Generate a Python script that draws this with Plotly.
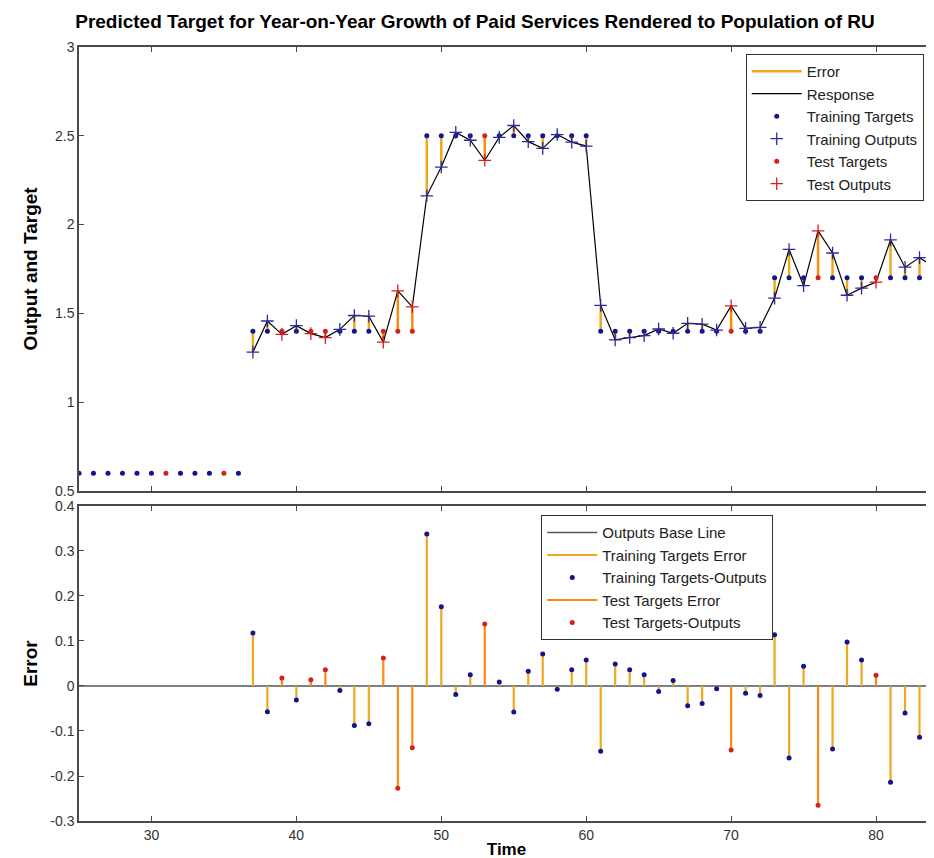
import plotly.graph_objects as go

# time steps and series
time = [25, 26, 27, 28, 29, 30, 31, 32, 33, 34, 35, 36,
        37, 38, 39, 40, 41, 42, 43, 44, 45, 46, 47, 48,
        49, 50, 51, 52, 53, 54, 55, 56, 57, 58, 59, 60,
        61, 62, 63, 64, 65, 66, 67, 68, 69, 70, 71, 72,
        73, 74, 75, 76, 77, 78, 79, 80, 81, 82, 83, 84]

targets = [0.6, 0.6, 0.6, 0.6, 0.6, 0.6, 0.6, 0.6, 0.6, 0.6, 0.6, 0.6,
           1.4, 1.4, 1.4, 1.4, 1.4, 1.4, 1.4, 1.4, 1.4, 1.4, 1.4, 1.4,
           2.5, 2.5, 2.5, 2.5, 2.5, 2.5, 2.5, 2.5, 2.5, 2.5, 2.5, 2.5,
           1.4, 1.4, 1.4, 1.4, 1.4, 1.4, 1.4, 1.4, 1.4, 1.4, 1.4, 1.4,
           1.7, 1.7, 1.7, 1.7, 1.7, 1.7, 1.7, 1.7, 1.7, 1.7, 1.7, 1.7]

# network outputs (none for the first 12 delay steps)
outputs = [None, None, None, None, None, None, None, None, None, None, None, None,
           1.282, 1.457, 1.382, 1.431, 1.386, 1.364, 1.410, 1.488, 1.484, 1.338, 1.627, 1.537,
           2.162, 2.324, 2.519, 2.475, 2.362, 2.491, 2.558, 2.467, 2.429, 2.507, 2.464, 2.442,
           1.545, 1.351, 1.364, 1.375, 1.412, 1.388, 1.444, 1.439, 1.406, 1.542, 1.416, 1.421,
           1.586, 1.860, 1.656, 1.965, 1.840, 1.602, 1.642, 1.676, 1.914, 1.760, 1.814, 1.763]

test_times = [31, 35, 39, 41, 42, 46, 47, 48, 53, 70, 76, 80]

title = "Predicted Target for Year-on-Year Growth of Paid Services Rendered to Population of RU"

#colors
navy = "#14148c"
blue_plus = "#2a2aa0"
red = "#d42020"
err_train = "#f0a820"
err_test = "#fb8a10"
base_grey = "#55555f"

is_test = [t in test_times for t in time]

tr_t = [t for t, k in zip(time, is_test) if not k]
tr_y = [y for y, k in zip(targets, is_test) if not k]
te_t = [t for t, k in zip(time, is_test) if k]
te_y = [y for y, k in zip(targets, is_test) if k]
tr_o_t = [t for t, o, k in zip(time, outputs, is_test) if not k and o is not None]
tr_o = [o for o, k in zip(outputs, is_test) if not k and o is not None]
te_o_t = [t for t, o, k in zip(time, outputs, is_test) if k and o is not None]
te_o = [o for o, k in zip(outputs, is_test) if k and o is not None]

resp_t = [t for t, o in zip(time, outputs) if o is not None]
resp_o = [o for o in outputs if o is not None]

errors = [None if o is None else y - o for y, o in zip(targets, outputs)]


def segs(xs, y0s, y1s):
    sx, sy = [], []
    for x, a, b in zip(xs, y0s, y1s):
        sx += [x, x, None]
        sy += [a, b, None]
    return sx, sy


# top: error lines between target and output
etr_x, etr_y = segs(tr_o_t, [targets[time.index(t)] for t in tr_o_t], tr_o)
ete_x, ete_y = segs(te_o_t, [targets[time.index(t)] for t in te_o_t], te_o)

# bottom: stems from zero
err_tr = [errors[time.index(t)] for t in tr_o_t]
err_te = [errors[time.index(t)] for t in te_o_t]
str_x, str_y = segs(tr_o_t, [0] * len(tr_o_t), err_tr)
ste_x, ste_y = segs(te_o_t, [0] * len(te_o_t), err_te)

fig = go.Figure()

# ---- top panel ----
fig.add_trace(go.Scatter(x=etr_x, y=etr_y, mode="lines", name="Error",
                         line=dict(color=err_train, width=2.5), legend="legend"))
fig.add_trace(go.Scatter(x=ete_x, y=ete_y, mode="lines", name="Error", showlegend=False,
                         line=dict(color=err_test, width=2.5), legend="legend"))
fig.add_trace(go.Scatter(x=resp_t, y=resp_o, mode="lines", name="Response",
                         line=dict(color="black", width=1.2), legend="legend"))
fig.add_trace(go.Scatter(x=tr_t, y=tr_y, mode="markers", name="Training Targets",
                         marker=dict(color=navy, size=5), legend="legend"))
fig.add_trace(go.Scatter(x=tr_o_t, y=tr_o, mode="markers", name="Training Outputs",
                         marker=dict(symbol="cross-thin", size=9, line=dict(color=blue_plus, width=1.3)),
                         legend="legend"))
fig.add_trace(go.Scatter(x=te_t, y=te_y, mode="markers", name="Test Targets",
                         marker=dict(color=red, size=5), legend="legend"))
fig.add_trace(go.Scatter(x=te_o_t, y=te_o, mode="markers", name="Test Outputs",
                         marker=dict(symbol="cross-thin", size=9, line=dict(color=red, width=1.3)),
                         legend="legend"))

# ---- bottom panel ----
fig.add_trace(go.Scatter(x=[time[0], time[-1]], y=[0, 0], mode="lines", name="Outputs Base Line",
                         line=dict(color=base_grey, width=1.5), xaxis="x2", yaxis="y2", legend="legend2"))
fig.add_trace(go.Scatter(x=str_x, y=str_y, mode="lines", name="Training Targets Error",
                         line=dict(color=err_train, width=2.2), xaxis="x2", yaxis="y2", legend="legend2"))
fig.add_trace(go.Scatter(x=tr_o_t, y=err_tr, mode="markers", name="Training Targets-Outputs",
                         marker=dict(color=navy, size=5), xaxis="x2", yaxis="y2", legend="legend2"))
fig.add_trace(go.Scatter(x=ste_x, y=ste_y, mode="lines", name="Test Targets Error",
                         line=dict(color=err_test, width=2.2), xaxis="x2", yaxis="y2", legend="legend2"))
fig.add_trace(go.Scatter(x=te_o_t, y=err_te, mode="markers", name="Test Targets-Outputs",
                         marker=dict(color=red, size=5), xaxis="x2", yaxis="y2", legend="legend2"))

axis_common = dict(showline=True, linecolor="#4a4a4a", linewidth=1.5, mirror="ticks",
                   ticks="inside", ticklen=5, tickcolor="#4a4a4a", showgrid=False, zeroline=False,
                   tickfont=dict(family="Liberation Sans, Arial", size=14, color="#333"))

fig.update_layout(
    width=934, height=858,
    margin=dict(l=71, r=6, t=39, b=45),
    paper_bgcolor="white", plot_bgcolor="white",
    title=dict(text="<b>" + title + "</b>", x=0.5, xanchor="center", y=0.992, yanchor="top",
               font=dict(family="Liberation Sans, Arial", size=19, color="black")),
    xaxis=dict(axis_common, domain=[0, 1], range=[25, 84], tickvals=[30, 40, 50, 60, 70, 80],
               showticklabels=False, anchor="y"),
    yaxis=dict(axis_common, domain=[0.4264, 1], range=[0.5, 3],
               tickvals=[0.5, 1, 1.5, 2, 2.5, 3], ticktext=["0.5", "1", "1.5", "2", "2.5", "3"],
               title=dict(text="<b>Output and Target</b>", standoff=12,
                          font=dict(family="Liberation Sans, Arial", size=19, color="black")),
               anchor="x"),
    xaxis2=dict(axis_common, domain=[0, 1], range=[25, 84], tickvals=[30, 40, 50, 60, 70, 80],
                title=dict(text="<b>Time</b>", standoff=2,
                           font=dict(family="Liberation Sans, Arial", size=17, color="black")),
                anchor="y2"),
    yaxis2=dict(axis_common, domain=[0, 0.407], range=[-0.3, 0.4],
                tickvals=[-0.3, -0.2, -0.1, 0, 0.1, 0.2, 0.3, 0.4],
                ticktext=["-0.3", "-0.2", "-0.1", "0", "0.1", "0.2", "0.3", "0.4"],
                title=dict(text="<b>Error</b>", standoff=8,
                           font=dict(family="Liberation Sans, Arial", size=19, color="black")),
                anchor="x2"),
    legend=dict(x=0.988, xanchor="right", y=0.991, yanchor="top", bgcolor="white",
                bordercolor="#333", borderwidth=1, itemwidth=50, tracegroupgap=0,
                font=dict(family="Liberation Sans, Arial", size=15, color="#222")),
    legend2=dict(x=0.812, xanchor="right", y=0.395, yanchor="top", bgcolor="white",
                 bordercolor="#333", borderwidth=1, itemwidth=50, tracegroupgap=0,
                 font=dict(family="Liberation Sans, Arial", size=15, color="#222")),
)

fig.write_html("out.html")
